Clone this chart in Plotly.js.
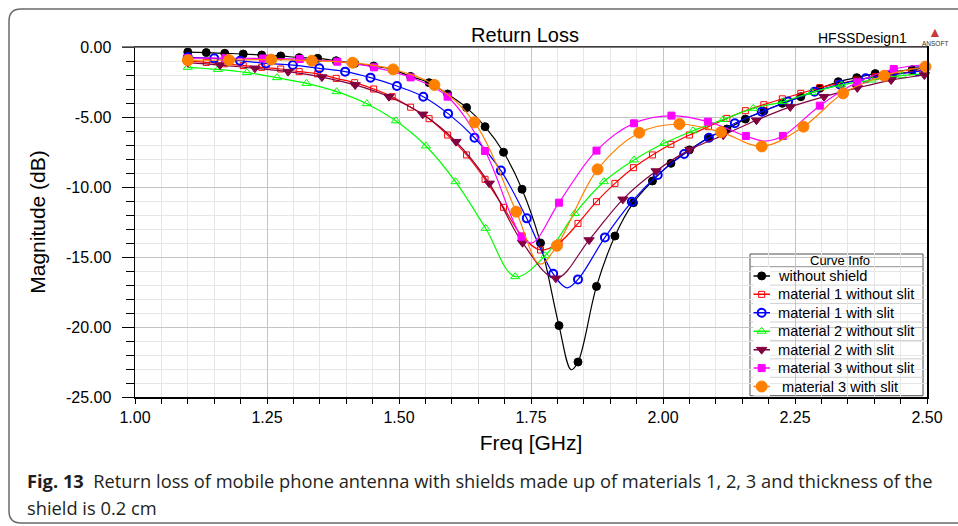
<!DOCTYPE html>
<html><head><meta charset="utf-8">
<script src="https://cdn.plot.ly/plotly-3.0.1.min.js"></script>
<style>html,body{margin:0;padding:0;background:#fff;overflow:hidden}</style>
</head><body><div id="chart" style="width:958px;height:526px"></div>
<script>
// ---------------- data ----------------
const seriesNames = ['without shield','material 1 without slit','material 1 with slit','material 2 without slit','material 2 with slit','material 3 without slit','\u00a0material 3 with slit'];

const blackF  = [1.100,1.135,1.170,1.205,1.240,1.276,1.311,1.346,1.381,1.416,1.452,1.487,1.522,1.557,1.592,1.628,1.663,1.698,1.733,1.768,1.803,1.839,1.874,1.909,1.944,1.980,2.015,2.050,2.086,2.121,2.156,2.191,2.226,2.261,2.297,2.332,2.367,2.402,2.437,2.472];
const blackDB = [-0.36,-0.40,-0.45,-0.50,-0.57,-0.64,-0.76,-0.81,-0.98,-1.17,-1.36,-1.60,-2.10,-2.55,-3.36,-4.33,-5.69,-7.52,-10.16,-14.0,-19.9,-22.5,-17.1,-13.5,-11.12,-9.57,-8.31,-7.35,-6.48,-5.86,-5.15,-4.57,-4.02,-3.55,-2.95,-2.48,-2.19,-1.90,-1.75,-1.62];
const blackExtraF  = [1.826, 2.500];
const blackExtraDB = [-23.05, -1.45];

const redF  = [1.100,1.135,1.170,1.205,1.240,1.276,1.311,1.346,1.381,1.416,1.452,1.487,1.522,1.557,1.592,1.628,1.663,1.698,1.733,1.768,1.803,1.839,1.874,1.909,1.944,1.980,2.015,2.050,2.086,2.121,2.156,2.191,2.226,2.261,2.297,2.332,2.367,2.402,2.437,2.472];
const redDB = [-1.00,-1.10,-1.20,-1.33,-1.45,-1.57,-1.76,-1.92,-2.24,-2.55,-3.00,-3.55,-4.30,-5.12,-6.29,-7.71,-9.45,-11.45,-13.5,-14.5,-14.0,-12.6,-11.05,-9.74,-8.62,-7.71,-6.95,-6.29,-5.69,-5.10,-4.55,-4.12,-3.70,-3.31,-2.90,-2.62,-2.36,-2.12,-1.92,-1.76];
const redExtraF  = [2.500];
const redExtraDB = [-1.62];

const blueF  = [1.100,1.150,1.199,1.248,1.299,1.349,1.398,1.446,1.496,1.546,1.593,1.643,1.693,1.742,1.792,1.839,1.890,1.941,1.990,2.040,2.087,2.136,2.187,2.237,2.287,2.335,2.384,2.433,2.483];
const blueDB = [-0.74,-0.81,-0.98,-1.17,-1.29,-1.52,-1.76,-2.19,-2.79,-3.55,-4.76,-6.48,-8.83,-12.24,-16.2,-16.6,-13.6,-11.05,-9.14,-7.64,-6.48,-5.45,-4.62,-3.90,-3.19,-2.67,-2.24,-2.00,-1.74];
const blueExtraF  = [1.818, 2.500];
const blueExtraDB = [-17.2, -1.66];

const greenF  = [1.100,1.157,1.212,1.269,1.325,1.382,1.439,1.494,1.551,1.607,1.664,1.720,1.777,1.833,1.888,1.945,2.002,2.057,2.114,2.171,2.228,2.282,2.338,2.395,2.452];
const greenDB = [-1.45,-1.60,-1.83,-2.19,-2.60,-3.19,-4.05,-5.27,-7.07,-9.62,-12.95,-16.4,-14.9,-11.9,-9.62,-8.07,-6.88,-5.98,-5.18,-4.38,-3.90,-3.24,-2.71,-2.36,-2.05];
const greenExtraF  = [2.500];
const greenExtraDB = [-1.88];

const maroonF  = [1.100,1.161,1.227,1.290,1.354,1.417,1.481,1.545,1.608,1.671,1.734,1.797,1.860,1.924,1.987,2.051,2.114,2.177,2.241,2.305,2.368,2.432,2.495];
const maroonDB = [-1.12,-1.29,-1.52,-1.76,-2.15,-2.71,-3.55,-4.81,-6.76,-9.74,-13.98,-16.52,-13.79,-10.88,-8.86,-7.33,-6.30,-5.23,-4.28,-3.55,-2.92,-2.36,-2.00];
const maroonExtraF  = [];
const maroonExtraDB = [];

const magentaF  = [1.100,1.171,1.242,1.312,1.383,1.453,1.522,1.592,1.663,1.732,1.803,1.874,1.945,2.016,2.085,2.157,2.227,2.297,2.368,2.437];
const magentaDB = [-0.80,-0.80,-0.82,-0.86,-1.05,-1.45,-2.17,-3.55,-7.43,-13.55,-11.12,-7.40,-5.45,-4.90,-5.33,-6.36,-6.36,-4.19,-2.52,-1.57];
const magentaExtraF  = [1.752, 2.192, 2.500];
const magentaExtraDB = [-14.0, -6.72, -1.25];

const orangeF  = [1.100,1.178,1.258,1.335,1.412,1.489,1.567,1.643,1.722,1.799,1.876,1.955,2.031,2.110,2.187,2.266,2.341,2.419,2.497];
const orangeDB = [-0.95,-0.93,-0.90,-0.98,-1.12,-1.60,-2.71,-5.38,-11.76,-14.2,-8.74,-6.12,-5.50,-6.08,-7.10,-5.69,-3.31,-2.05,-1.40];
const orangeExtraF  = [1.767];
const orangeExtraDB = [-15.5];

const xTickVals = [1.00,1.25,1.50,1.75,2.00,2.25,2.50];
const xTickText = ['1.00','1.25','1.50','1.75','2.00','2.25','2.50'];
const yTickVals = [0,-5,-10,-15,-20,-25];
const yTickText = ['0.00','-5.00','-10.00','-15.00','-20.00','-25.00'];

// ---------------- styling ----------------
const FONT = 'Liberation Sans, Arial, sans-serif';
const CAPFONT = 'Open Sans, Noto Sans, sans-serif';
const series = [
  {f: blackF,   d: blackDB,   ef: blackExtraF,   ed: blackExtraDB,   color:'#000000', symbol:'circle',          size:8,  lw:1},
  {f: redF,     d: redDB,     ef: redExtraF,     ed: redExtraDB,     color:'#ff0000', symbol:'square-open',     size:6,  lw:1},
  {f: blueF,    d: blueDB,    ef: blueExtraF,    ed: blueExtraDB,    color:'#0000ff', symbol:'circle-open',     size:8,  lw:2},
  {f: greenF,   d: greenDB,   ef: greenExtraF,   ed: greenExtraDB,   color:'#00ff00', symbol:'triangle-up-open',size:8,  lw:1},
  {f: maroonF,  d: maroonDB,  ef: maroonExtraF,  ed: maroonExtraDB,  color:'#800040', symbol:'triangle-down',   size:9,  lw:1},
  {f: magentaF, d: magentaDB, ef: magentaExtraF, ed: magentaExtraDB, color:'#ff00ff', symbol:'square',          size:7,  lw:1},
  {f: orangeF,  d: orangeDB,  ef: orangeExtraF,  ed: orangeExtraDB,  color:'#ff8000', symbol:'circle',          size:11, lw:1}
];

function merged(s){
  const pts = s.f.map((v,i)=>[v,s.d[i]]).concat(s.ef.map((v,i)=>[v,s.ed[i]]));
  pts.sort((a,b)=>a[0]-b[0]);
  return {x: pts.map(p=>p[0]), y: pts.map(p=>p[1])};
}

const traces = [];
series.forEach((s,i)=>{
  const m = merged(s);
  traces.push({x:m.x, y:m.y, mode:'lines', type:'scatter', line:{color:s.color, width:1.2, shape:'spline', smoothing:1},
    showlegend:false, hoverinfo:'skip'});
  traces.push({x:s.f, y:s.d, mode:'markers', type:'scatter', name:seriesNames[i],
    marker:{symbol:s.symbol, size:s.size, color:s.color, line:{color:s.color, width:s.lw}},
    showlegend:false, hoverinfo:'skip', cliponaxis:false});
});

// legend icons drawn on a small overlay subplot (row index = y)
seriesNames.forEach((nm,i)=>{
  const s = series[i];
  traces.push({x:[0,1], y:[i+0.5,i+0.5], xaxis:'x2', yaxis:'y2', mode:'lines', line:{color:s.color, width:1.5},
    showlegend:false, hoverinfo:'skip', cliponaxis:false});
  traces.push({x:[0.5], y:[i+0.5], xaxis:'x2', yaxis:'y2', mode:'markers',
    marker:{symbol:s.symbol, size:s.size, color:s.color, line:{color:s.color, width:s.lw}},
    showlegend:false, hoverinfo:'skip', cliponaxis:false});
});

// ---------------- geometry helpers (pixel -> coords) ----------------
const W=958, H=526, L=135, R=31, T=47, B=129;
const PW = W-L-R, PH = H-T-B;
const px2x = p => 1 + (p-L)/PW*1.5;
const py2y = p => -(p-T)/PH*25;
const px2paper = p => (p-L)/PW;
const py2paper = p => (H-B-p)/PH;

const legL=750, legR=923, legT=254, legHead=266.7, rowH=18.43, legB=legHead+7*rowH;

const shapes = [];
shapes.push({type:'rect', xref:'x', yref:'y', layer:'below', x0:px2x(legL), x1:px2x(legR), y0:py2y(legT), y1:py2y(legB),
  fillcolor:'#ffffff', line:{color:'#505050', width:1}});
for(let k=0;k<7;k++){
  const yy = py2y(legHead + k*rowH);
  shapes.push({type:'line', xref:'x', yref:'y', layer:'below', x0:px2x(legL), x1:px2x(legR), y0:yy, y1:yy,
    line:{color: k===0 ? '#909090' : '#d0d0d0', width:1}});
}
// top frame of plot drawn gray like the reference
shapes.push({type:'line', xref:'paper', yref:'paper', layer:'above', x0:px2paper(122), x1:1, y0:1, y1:1,
  line:{color:'#555555', width:1.5}});
// outer rounded frame
const fx0=px2paper(9), fy0=py2paper(9), fy1=py2paper(523), fxr=px2paper(1000);
const rx=12/PW, ry=12/PH;
shapes.push({type:'path', xref:'paper', yref:'paper', layer:'above',
  path:`M ${fxr},${fy0} L ${fx0+rx},${fy0} Q ${fx0},${fy0} ${fx0},${fy0-ry} L ${fx0},${fy1+ry} Q ${fx0},${fy1} ${fx0+rx},${fy1} L ${fxr},${fy1}`,
  line:{color:'#6a6a6a', width:1.5}});

const annotations = [];
annotations.push({xref:'x', yref:'y', x:px2x(840), y:py2y(260.4), text:'Curve Info', showarrow:false,
  xanchor:'center', yanchor:'middle', font:{family:FONT, size:13, color:'#000'}});
seriesNames.forEach((nm,i)=>{
  annotations.push({xref:'x', yref:'y', x:px2x(776), y:py2y(legHead+(i+0.5)*rowH), text:nm, showarrow:false,
    xanchor:'left', yanchor:'middle', font:{family:FONT, size:14.6, color:'#000'}});
});
annotations.push({xref:'paper', yref:'paper', x:px2paper(862), y:py2paper(38), text:'HFSSDesign1', showarrow:false,
  xanchor:'center', yanchor:'middle', font:{family:FONT, size:14, color:'#000'}});
annotations.push({xref:'paper', yref:'paper', x:px2paper(935), y:py2paper(32), text:'▲', showarrow:false,
  xanchor:'center', yanchor:'middle', font:{family:FONT, size:14, color:'#c83c3c'}});
annotations.push({xref:'paper', yref:'paper', x:px2paper(935), y:py2paper(43), text:'ANSOFT', showarrow:false,
  xanchor:'center', yanchor:'middle', font:{family:FONT, size:6.5, color:'#333'}});
annotations.push({xref:'paper', yref:'paper', x:px2paper(25), y:py2paper(480), xanchor:'left', yanchor:'middle', showarrow:false,
  text:'<b>Fig. 13</b>\u00a0\u00a0Return loss of mobile phone antenna with shields made up of materials 1, 2, 3 and thickness of the',
  font:{family:CAPFONT, size:18.3, color:'#231f20'}});
annotations.push({xref:'paper', yref:'paper', x:px2paper(25), y:py2paper(507), xanchor:'left', yanchor:'middle', showarrow:false,
  text:'shield is 0.2 cm', font:{family:CAPFONT, size:18.3, color:'#231f20'}});

const layout = {
  width:W, height:H, autosize:false,
  margin:{l:L, r:R, t:T, b:B, pad:0},
  paper_bgcolor:'#ffffff', plot_bgcolor:'#ffffff',
  showlegend:false,
  title:{text:'Return Loss', font:{family:FONT, size:20, color:'#000'}, xref:'container', yref:'container',
    x:525/W, xanchor:'center', y:1-35/H, yanchor:'middle'},
  xaxis:{range:[1,2.5], tickmode:'array', tickvals:xTickVals, ticktext:xTickText,
    ticks:'outside', ticklen:5, tickwidth:1, tickcolor:'#000',
    showline:true, linecolor:'#000', linewidth:1.5, mirror:true,
    showgrid:true, gridcolor:'#c4c4c4', gridwidth:1, zeroline:false,
    minor:{tick0:1, dtick:0.05, showgrid:true, gridcolor:'#e6e6e6', gridwidth:1, ticks:'outside', ticklen:5, tickcolor:'#000'},
    tickfont:{family:FONT, size:16, color:'#000'},
    title:{text:'Freq [GHz]', font:{family:FONT, size:21, color:'#000'}, standoff:10}},
  yaxis:{range:[-25,0], tickmode:'array', tickvals:yTickVals, ticktext:yTickText,
    ticks:'outside', ticklen:12, tickwidth:1, tickcolor:'#000', ticklabelstandoff:7,
    showline:true, linecolor:'#000', linewidth:1.5, mirror:true,
    showgrid:true, gridcolor:'#c4c4c4', gridwidth:1, zeroline:false,
    minor:{tick0:0, dtick:1, showgrid:true, gridcolor:'#e6e6e6', gridwidth:1, ticks:'outside', ticklen:8, tickcolor:'#000'},
    tickfont:{family:FONT, size:16, color:'#000'},
    title:{text:'Magnitude (dB)', font:{family:FONT, size:21, color:'#000'}, standoff:14}},
  xaxis2:{domain:[px2paper(753.3), px2paper(770)], range:[0,1], anchor:'y2', visible:false, fixedrange:true},
  yaxis2:{domain:[py2paper(legB), py2paper(legHead)], range:[7,0], anchor:'x2', visible:false, fixedrange:true},
  shapes:shapes,
  annotations:annotations
};

Plotly.newPlot('chart', traces, layout, {displayModeBar:false, staticPlot:true});
</script></body></html>
